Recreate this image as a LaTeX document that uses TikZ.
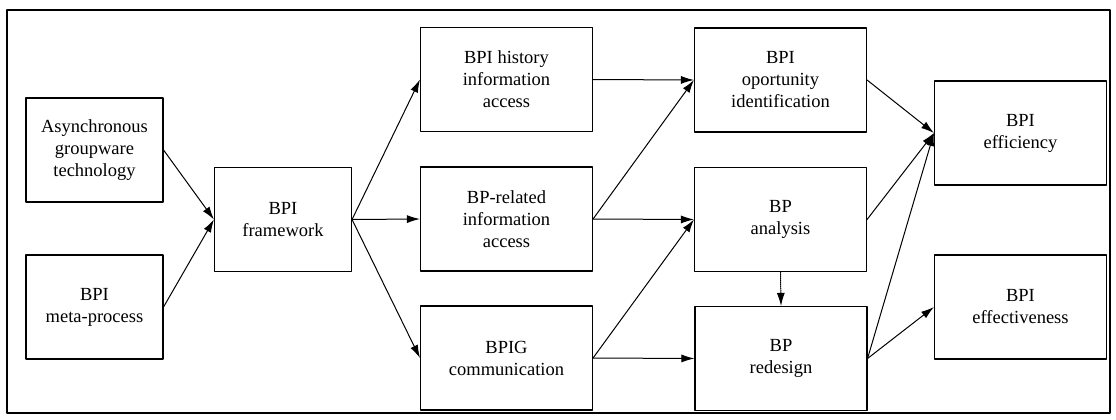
\documentclass[tikz,border=0pt]{standalone}
\usepackage{fontspec}
\setmainfont{Liberation Serif}
\usetikzlibrary{arrows.meta}
\usetikzlibrary{positioning}
\begin{document}
\begin{tikzpicture}[x=1pt,y=-1pt,line cap=round,line join=round,>={Latex[length=13pt,width=8pt]},
  box/.style={draw,line width=1.1pt,align=center,inner sep=0pt,minimum height=104pt,font=\fontsize{18.5}{22}\selectfont},
  smallbox/.style={box,minimum width=137pt},
  widebox/.style={box,minimum width=172pt},
  link/.style={->,line width=1pt}]
\useasboundingbox (0,0) rectangle (1116,420);
\draw [line width=1.6pt] (7,10) rectangle (1110,413);
\node[smallbox] (async) at (94.5,150) {Asynchronous\\groupware\\technology};
\node[smallbox] (meta) at (94.5,307) {BPI\\meta-process};
\node[smallbox] (frame) at (283,219.5) {BPI\\framework};
\node[widebox] (hist) at (506.5,79.5) {BPI history\\information\\access};
\node[widebox] (rel) at (506.5,219) {BP-related\\information\\access};
\node[widebox] (comm) at (506.5,358) {BPIG\\communication};
\node[widebox] (opp) at (780.5,80) {BPI\\oportunity\\identification};
\node[widebox] (ana) at (780.5,219.5) {BP\\analysis};
\node[widebox] (redes) at (781,358.5) {BP\\redesign};
\node[widebox] (effic) at (1020.5,133) {BPI\\efficiency};
\node[widebox] (effec) at (1020.5,307) {BPI\\effectiveness};
\draw[link] (async.east) -- (frame.west);
\draw[link] (meta.east) -- (frame.west);
\draw[link] (frame.east) -- (hist.west);
\draw[link] (frame.east) -- (rel.west);
\draw[link] (frame.east) -- (comm.west);
\draw[link] (hist.east) -- (opp.west);
\draw[link] (rel.east) -- (opp.west);
\draw[link] (rel.east) -- (ana.west);
\draw[link] (comm.east) -- (ana.west);
\draw[link] (comm.east) -- (redes.west);
\draw[link] (opp.east) -- (effic.west);
\draw[link] (ana.east) -- (effic.west);
\draw[link] (redes.east) -- (effic.west);
\draw[link] (redes.east) -- (effec.west);
\draw[link,densely dotted] (ana.south) -- (redes.north);
\end{tikzpicture}
\end{document}
